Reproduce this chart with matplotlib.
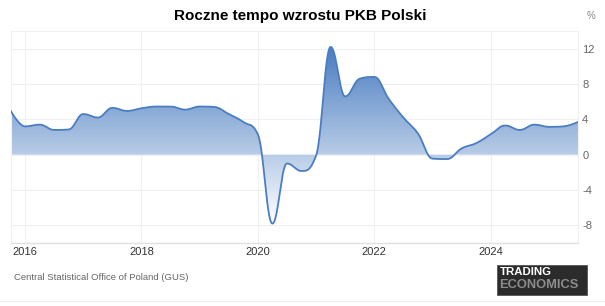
import numpy as np
import matplotlib
matplotlib.use('Agg')
import matplotlib.pyplot as plt
from matplotlib.colors import LinearSegmentedColormap
from matplotlib.patches import Polygon, Rectangle
from matplotlib.lines import Line2D

# dane kwartalne (r/r, %)
quarters = ['2015Q4',
            '2016Q1', '2016Q2', '2016Q3', '2016Q4',
            '2017Q1', '2017Q2', '2017Q3', '2017Q4',
            '2018Q1', '2018Q2', '2018Q3', '2018Q4',
            '2019Q1', '2019Q2', '2019Q3', '2019Q4',
            '2020Q1', '2020Q2', '2020Q3', '2020Q4',
            '2021Q1', '2021Q2', '2021Q3', '2021Q4',
            '2022Q1', '2022Q2', '2022Q3', '2022Q4',
            '2023Q1', '2023Q2', '2023Q3', '2023Q4',
            '2024Q1', '2024Q2', '2024Q3', '2024Q4',
            '2025Q1', '2025Q2', '2025Q3']
gdp = [5.0,
       3.2, 3.4, 2.8, 2.85,
       4.6, 4.2, 5.3, 4.95,
       5.25, 5.45, 5.45, 5.1,
       5.45, 5.4, 4.6, 3.7,
       2.3, -7.8, -1.0, -1.85,
       -0.1, 12.2, 6.6, 8.6,
       8.8, 6.3, 4.2, 2.4,
       -0.45, -0.5, 0.7, 1.3,
       2.3, 3.3, 2.8, 3.4,
       3.15, 3.2, 3.7]
year_ticks = [2016, 2018, 2020, 2022, 2024]
y_ticks = [-8, -4, 0, 4, 8, 12]

title = 'Roczne tempo wzrostu PKB Polski'
source = 'Central Statistical Office of Poland (GUS)'

W, H = 605, 306
LINE = '#4a7dc2'
TOP = '#4a7dc1'
GRID = '#f0f0f0'
TXT = '#666666'

plt.rcParams['font.family'] = ['Liberation Sans', 'DejaVu Sans']


def q_to_year(q):
    return int(q[:4]) + (int(q[5]) - 1) * 0.25


def spline(xs, ys, n=30):
    # wygładzanie w stylu highcharts (smoothing 1.5)
    xs = np.asarray(xs, float)
    ys = np.asarray(ys, float)
    m = len(xs)
    lcx, lcy = xs.copy(), ys.copy()
    rcx, rcy = xs.copy(), ys.copy()
    s = 1.5
    d = s + 1
    for i in range(1, m - 1):
        px, py = xs[i], ys[i]
        lx, ly = xs[i - 1], ys[i - 1]
        nx, ny = xs[i + 1], ys[i + 1]
        a_x = (s * px + lx) / d
        a_y = (s * py + ly) / d
        b_x = (s * px + nx) / d
        b_y = (s * py + ny) / d
        corr = 0
        if b_x != a_x:
            corr = (b_y - a_y) * (b_x - px) / (b_x - a_x) + py - b_y
        a_y += corr
        b_y += corr
        if a_y > ly and a_y > py:
            a_y = max(ly, py)
            b_y = 2 * py - a_y
        elif a_y < ly and a_y < py:
            a_y = min(ly, py)
            b_y = 2 * py - a_y
        if b_y > ny and b_y > py:
            b_y = max(ny, py)
            a_y = 2 * py - b_y
        elif b_y < ny and b_y < py:
            b_y = min(ny, py)
            a_y = 2 * py - b_y
        lcx[i], lcy[i], rcx[i], rcy[i] = a_x, a_y, b_x, b_y
    t = np.linspace(0, 1, n)[:, None]
    out_x, out_y = [xs[0]], [ys[0]]
    for i in range(1, m):
        p0 = np.array([xs[i - 1], ys[i - 1]])
        p1 = np.array([rcx[i - 1], rcy[i - 1]])
        p2 = np.array([lcx[i], lcy[i]])
        p3 = np.array([xs[i], ys[i]])
        pts = ((1 - t) ** 3) * p0 + 3 * ((1 - t) ** 2) * t * p1 + 3 * (1 - t) * t ** 2 * p2 + t ** 3 * p3
        out_x.extend(pts[1:, 0])
        out_y.extend(pts[1:, 1])
    return np.array(out_x), np.array(out_y)


x = [q_to_year(q) for q in quarters]
sx, sy = spline(x, gdp)

fig = plt.figure(figsize=(W / 100, H / 100), dpi=100)
ax = fig.add_axes([10.5 / W, 1 - 243 / H, (578 - 10.5) / W, (243 - 31) / H])

xmin, xmax = 2015.75, 2025.5
ymin, ymax = -10, 14

# gradient pod krzywą
verts = list(zip(sx, sy)) + [(sx[-1], 0), (sx[0], 0)]
patch = Polygon(verts, closed=True, facecolor='none', edgecolor='none')
ax.add_patch(patch)
cmap = LinearSegmentedColormap.from_list('grad', [TOP, '#ffffff'])
grad = np.linspace(0, 1, 256).reshape(-1, 1)
img = ax.imshow(grad, cmap=cmap, aspect='auto', interpolation='bilinear',
                extent=[sx[0], sx[-1], min(gdp), max(gdp)], origin='upper', zorder=2)
img.set_clip_path(patch)

ax.plot(sx, sy, color=LINE, lw=1.3, zorder=3, solid_capstyle='round')

ax.set_xlim(xmin, xmax)
ax.set_ylim(ymin, ymax)

ax.set_xticks(year_ticks)
ax.set_xticklabels([str(y) for y in year_ticks])
ax.set_yticks(y_ticks)
ax.set_yticklabels([str(v) for v in y_ticks])
ax.yaxis.tick_right()
ax.tick_params(axis='both', length=0, labelsize=8, labelcolor='#333333')
ax.tick_params(axis='y', pad=3, labelcolor=TXT)
ax.tick_params(axis='x', pad=3)
ax.grid(True, color=GRID, lw=0.8, zorder=0)
ax.set_axisbelow(True)
for side in ['top', 'left', 'right']:
    ax.spines[side].set_color('#f0f0f0')
    ax.spines[side].set_linewidth(0.8)
ax.spines['bottom'].set_color('#e0e0e0')
ax.spines['bottom'].set_linewidth(1.0)

fig.text(300 / W, 1 - 16 / H, title, ha='center', va='center',
         fontsize=11, fontweight='bold', color='#000000')
fig.text(591 / W, 1 - 16 / H, '%', ha='center', va='center', fontsize=7, color='#888888')
fig.text(14 / W, 1 - 278 / H, source, ha='left', va='center', fontsize=6.8, color=TXT)

# logo
fig.patches.append(Rectangle((497 / W, 1 - 295 / H), 90 / W, 30 / H,
                             transform=fig.transFigure, facecolor='#2b2b2b',
                             edgecolor='#555555', lw=0.6))
fig.text(499.5 / W, 1 - 272 / H, 'TRADING', ha='left', va='center',
         fontsize=8.2, fontweight='bold', color='#ffffff')
fig.text(499.5 / W, 1 - 284.5 / H, 'ECONOMICS', ha='left', va='center',
         fontsize=9.3, fontweight='bold', color='#8c8c8c')

fig.lines.append(Line2D([0, 1], [1 - 301 / H, 1 - 301 / H], transform=fig.transFigure,
                        color='#eeeeee', lw=0.8))

fig.savefig('out.png', dpi=100)
